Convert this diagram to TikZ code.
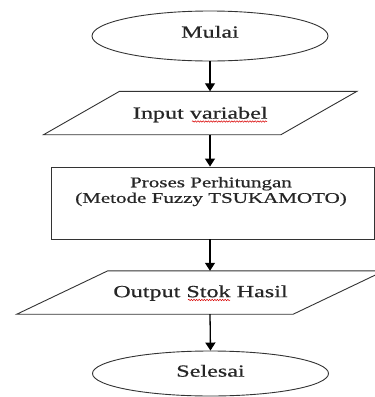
\documentclass[tikz,border=0pt]{standalone}
\usepackage{fontspec}
\setmainfont{Liberation Serif}[FakeStretch=1.42,FakeBold=0.6]
\usetikzlibrary{shapes.geometric,arrows.meta,decorations.pathmorphing}
\definecolor{txt}{HTML}{262626}
\tikzset{
  shapeline/.style={draw=black!80, line width=0.9pt},
  term/.style={ellipse, shapeline, minimum width=236pt, inner sep=0pt,
    text=txt, font=\fontsize{17}{20}\selectfont, text height=11.3pt},
  io/.style={rectangle, minimum width=#1, minimum height=43pt, inner sep=0pt,
    text=txt, font=\fontsize{17}{20}\selectfont, text height=11.3pt},
  proc/.style={rectangle, shapeline, minimum width=323pt, minimum height=72pt, inner sep=0pt},
  proctext/.style={align=center, inner sep=0pt, text=txt,
    font=\fontsize{14.8}{15.6}\selectfont},
  conn/.style={-{Triangle[length=8pt,width=10pt]}, line width=1.3pt, draw=black},
  spell/.style={draw=red!85!black, line width=0.5pt,
    decorate, decoration={snake, amplitude=0.7pt, segment length=2.6pt}},
}
\begin{document}
\begin{tikzpicture}[x=1pt,y=-1pt]
\useasboundingbox (0,0) rectangle (375,397);
\clip (0,0) rectangle (375,397);
\fill[white] (0,0) rectangle (375,397);

\node[term, minimum height=50pt, text depth=8pt] (mulai) at (210,36) {Mulai};

\node[io=237pt, text depth=0pt] (in) at (200.25,113) {Input variabel};
\draw[shapeline] ([xshift=38pt]in.north west) -- ([xshift=38pt]in.north east)
  -- ([xshift=-38pt]in.south east) -- ([xshift=-38pt]in.south west) -- cycle;

\node[proc] (proc) at (212.5,203) {};
\node[proctext, anchor=north] (proct) at (211,176.8)
  {Proses Perhitungan\\(Metode Fuzzy TSUKAMOTO)};

\node[io=276pt, text depth=2pt] (out) at (200.5,292.5) {Output Stok Hasil};
\draw[shapeline] ([xshift=45.5pt]out.north west) -- ([xshift=45.5pt]out.north east)
  -- ([xshift=-45.5pt]out.south east) -- ([xshift=-45.5pt]out.south west) -- cycle;

\node[term, minimum height=45pt, text depth=5pt] (selesai) at (210.5,373.5) {Selesai};

\draw[conn] (mulai.south) -- (mulai.south |- in.north);
\draw[conn] (in.south -| mulai) -- (proc.north -| mulai);
\draw[conn] (proc.south -| mulai) -- (out.north -| mulai);
\draw[conn] (out.south -| mulai) -- (selesai.north);

\draw[spell] (192,121.5) -- (267,121.5);
\draw[spell] (188,300) -- (230,300);
\end{tikzpicture}
\end{document}
